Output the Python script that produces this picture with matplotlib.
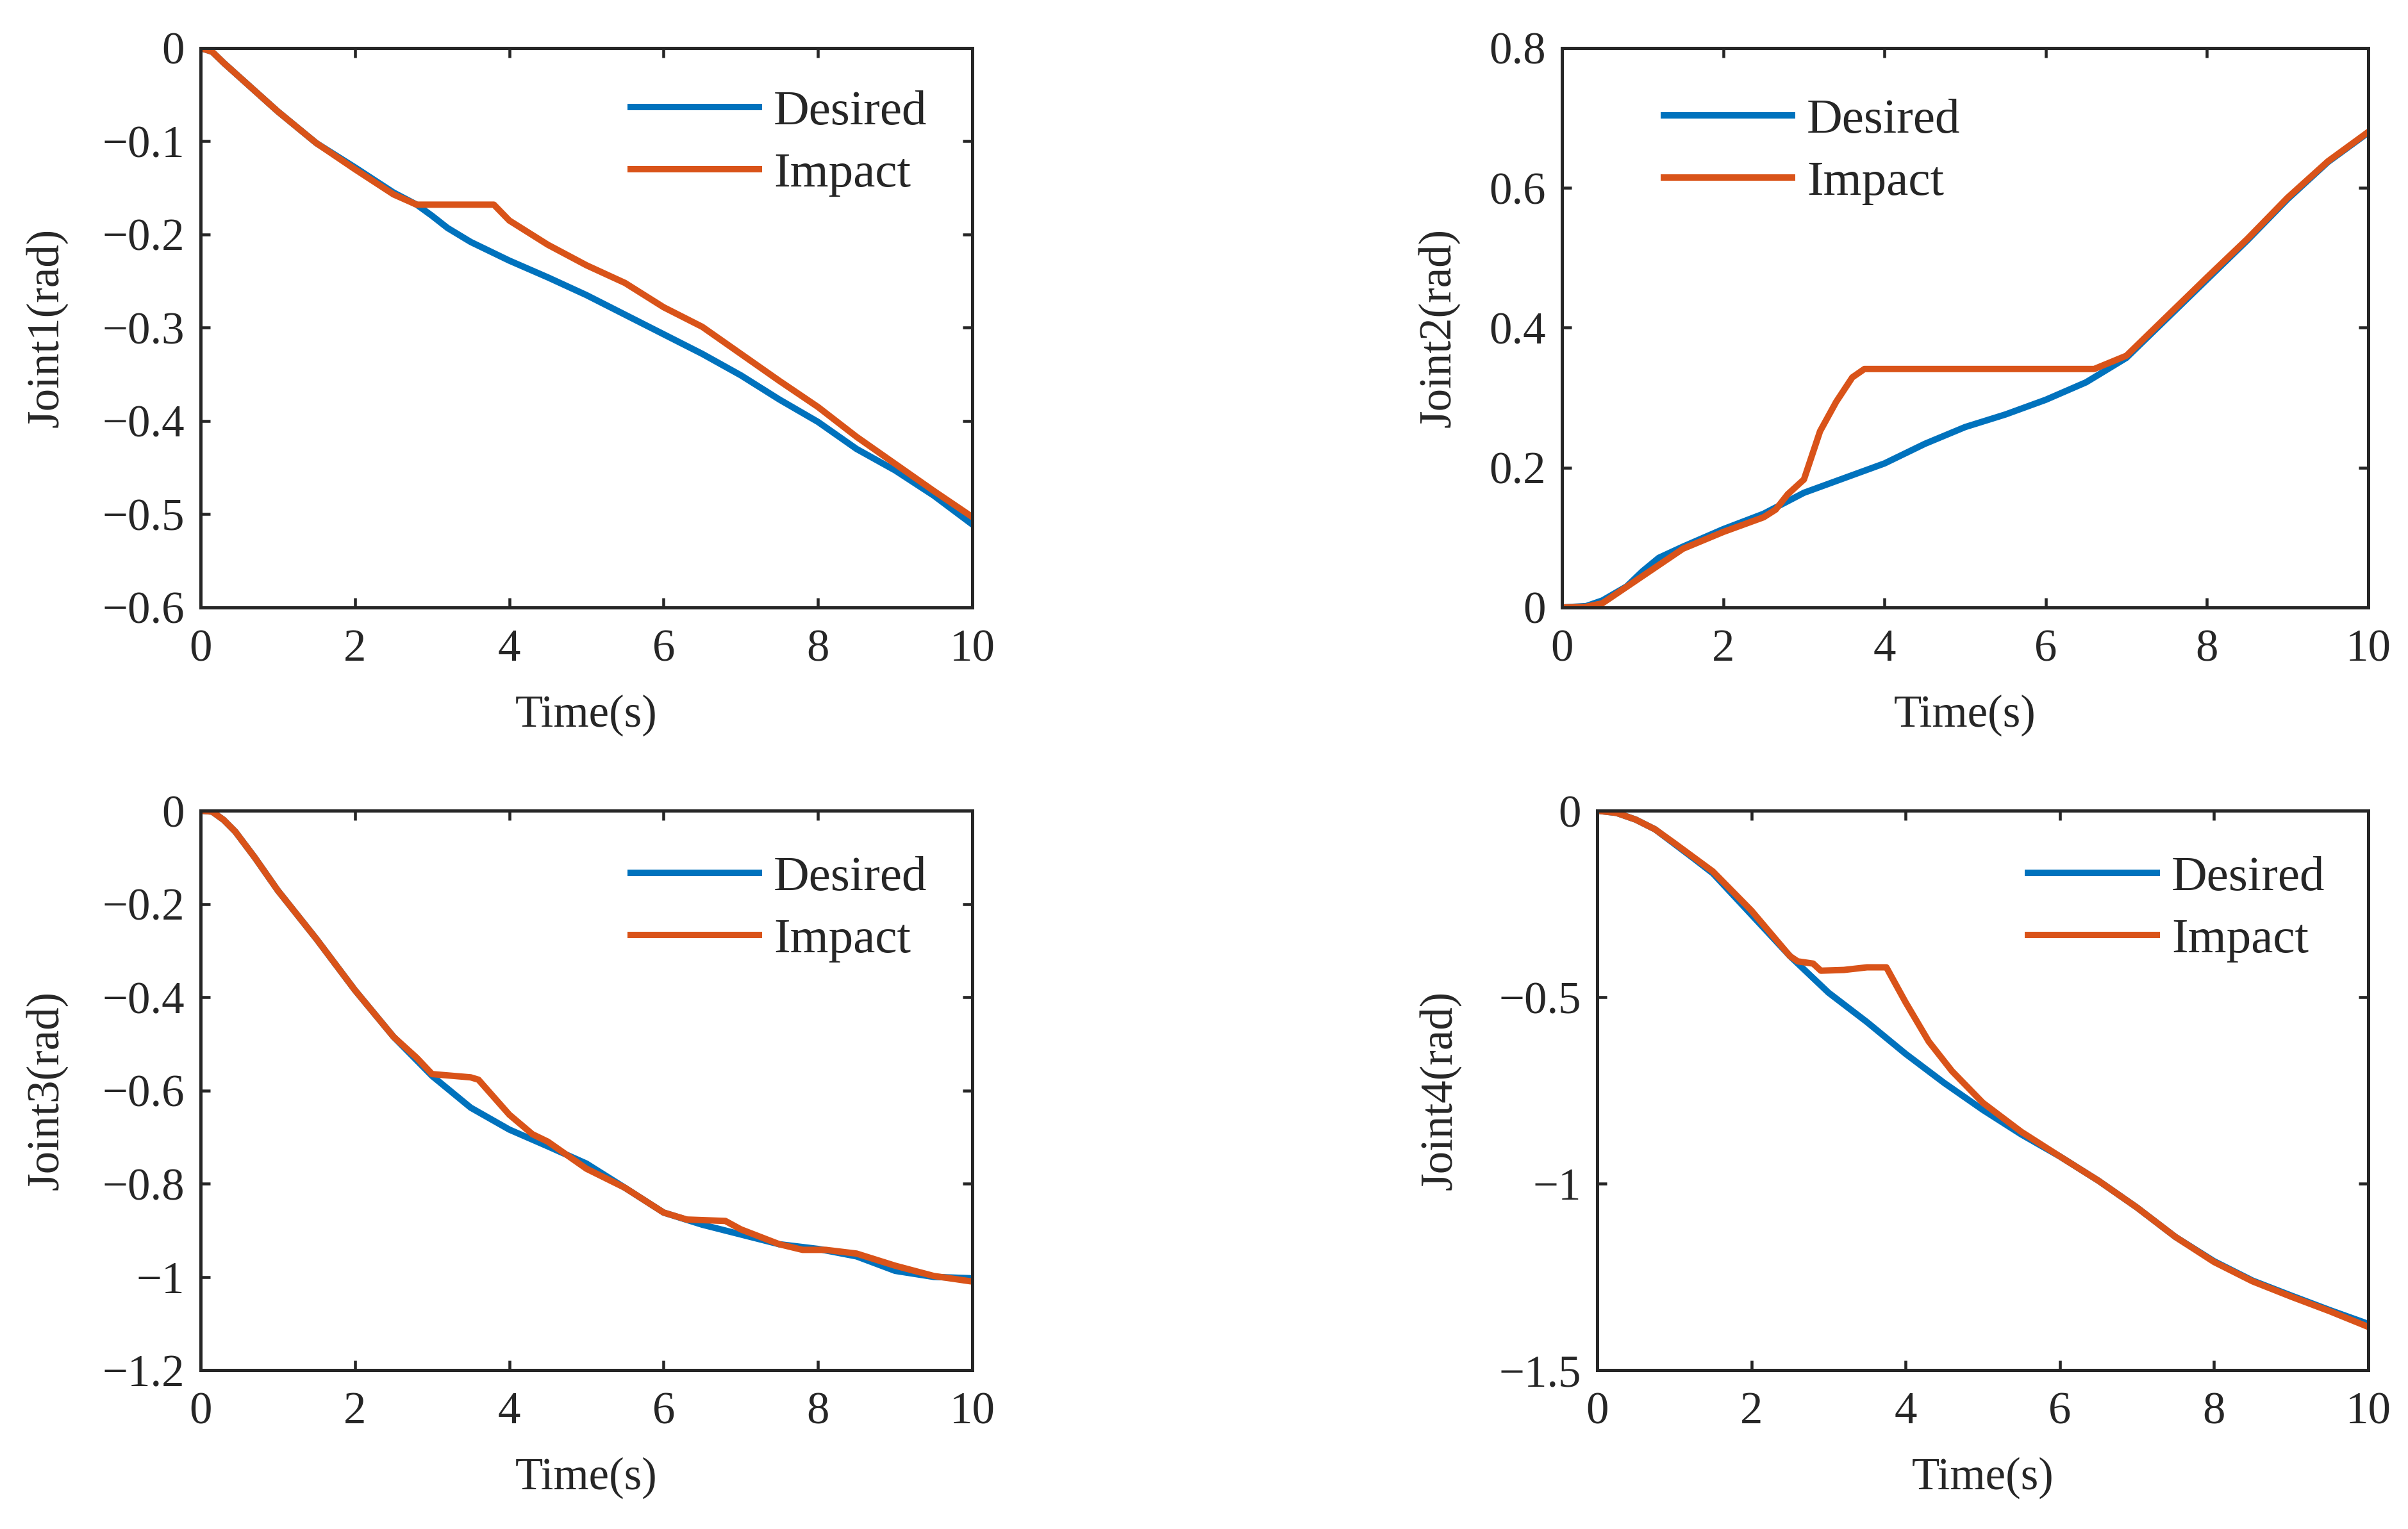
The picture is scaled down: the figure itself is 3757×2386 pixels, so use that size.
import numpy as np
import matplotlib
matplotlib.use("Agg")
import matplotlib.pyplot as plt
from matplotlib.ticker import FuncFormatter

plt.rcParams['font.family'] = ['Liberation Serif', 'DejaVu Serif']
plt.rcParams['axes.unicode_minus'] = True

# Joint 1
t1_des = [0, 0.15, 0.3, 1, 1.5, 2, 2.5, 2.8, 3, 3.2, 3.5, 4, 4.5, 5, 5.5, 6, 6.5, 7, 7.5, 8, 8.5, 9, 9.5, 10]
j1_des = [0, -0.004, -0.016, -0.068, -0.102, -0.128, -0.155, -0.168, -0.18, -0.193, -0.208, -0.228,
          -0.246, -0.265, -0.286, -0.307, -0.328, -0.351, -0.377, -0.401, -0.43, -0.453, -0.48, -0.511]
t1_imp = [0, 0.15, 0.3, 1, 1.5, 2, 2.5, 2.8, 3.8, 4, 4.5, 5, 5.5, 6, 6.5, 7, 7.5, 8, 8.5, 9, 9.5, 10]
j1_imp = [0, -0.004, -0.016, -0.068, -0.102, -0.13, -0.157, -0.168, -0.168, -0.185, -0.211, -0.233,
          -0.252, -0.278, -0.299, -0.328, -0.357, -0.385, -0.417, -0.446, -0.475, -0.503]

# Joint 2
t2_des = [0, 0.3, 0.5, 0.8, 1, 1.2, 1.5, 2, 2.5, 3, 3.5, 4, 4.5, 5, 5.5, 6, 6.5, 7, 7.5, 8, 8.5, 9, 9.5, 10]
j2_des = [0, 0.002, 0.01, 0.03, 0.052, 0.071, 0.087, 0.112, 0.134, 0.164, 0.185, 0.206, 0.234,
          0.258, 0.276, 0.297, 0.322, 0.357, 0.413, 0.469, 0.525, 0.584, 0.637, 0.679]
t2_imp = [0, 0.3, 0.5, 1, 1.5, 2, 2.5, 2.65, 2.8, 3.0, 3.2, 3.4, 3.6, 3.75, 6.6, 7, 7.5, 8, 8.5, 9, 9.5, 10]
j2_imp = [0, 0.001, 0.006, 0.045, 0.084, 0.108, 0.129, 0.14, 0.162, 0.183, 0.252, 0.294, 0.329,
          0.341, 0.341, 0.36, 0.416, 0.472, 0.527, 0.586, 0.638, 0.68]

# Joint 3
t3_des = [0, 0.15, 0.3, 0.45, 0.7, 1, 1.5, 2, 2.5, 3, 3.5, 4, 4.5, 5, 5.5, 6, 6.5, 7, 7.5, 8, 8.5, 9, 9.5, 10]
j3_des = [0, -0.002, -0.02, -0.045, -0.1, -0.171, -0.275, -0.385, -0.485, -0.569, -0.637, -0.684,
          -0.72, -0.757, -0.809, -0.862, -0.888, -0.909, -0.93, -0.94, -0.956, -0.987, -1.0, -1.003]
t3_imp = [0, 0.15, 0.3, 0.45, 0.7, 1, 1.5, 2, 2.5, 2.8, 3, 3.5, 3.6, 4, 4.3, 4.5, 5, 5.5, 6, 6.3, 6.8,
          7, 7.5, 7.8, 8.1, 8.5, 9, 9.5, 10]
j3_imp = [0, -0.002, -0.02, -0.045, -0.1, -0.171, -0.275, -0.385, -0.485, -0.53, -0.565, -0.572,
          -0.577, -0.652, -0.694, -0.71, -0.768, -0.809, -0.862, -0.877, -0.88, -0.898, -0.93,
          -0.942, -0.942, -0.95, -0.976, -0.998, -1.01]

# Joint 4
t4_des = [0, 0.25, 0.5, 0.75, 1, 1.25, 1.5, 2, 2.5, 3, 3.5, 4, 4.5, 5, 5.5, 6, 6.5, 7, 7.5, 8, 8.5, 9, 9.5, 10]
j4_des = [0, -0.006, -0.024, -0.05, -0.089, -0.128, -0.168, -0.279, -0.39, -0.488, -0.567, -0.652,
          -0.73, -0.802, -0.868, -0.927, -0.992, -1.064, -1.143, -1.208, -1.26, -1.3, -1.339, -1.376]
t4_imp = [0, 0.25, 0.5, 0.75, 1, 1.25, 1.5, 2, 2.5, 2.6, 2.8, 2.9, 3.2, 3.5, 3.75, 4, 4.3, 4.6, 5,
          5.5, 6, 6.5, 7, 7.5, 8, 8.5, 9, 9.5, 10]
j4_imp = [0, -0.006, -0.024, -0.05, -0.087, -0.125, -0.163, -0.268, -0.39, -0.404, -0.41, -0.429,
          -0.427, -0.42, -0.42, -0.514, -0.619, -0.698, -0.783, -0.861, -0.927, -0.992, -1.064,
          -1.143, -1.21, -1.262, -1.303, -1.342, -1.384]

ylabels = ['Joint1(rad)', 'Joint2(rad)', 'Joint3(rad)', 'Joint4(rad)']
yticks = [[-0.6, -0.5, -0.4, -0.3, -0.2, -0.1, 0],
          [0, 0.2, 0.4, 0.6, 0.8],
          [-1.2, -1.0, -0.8, -0.6, -0.4, -0.2, 0],
          [-1.5, -1.0, -0.5, 0]]
xticks = [0, 2, 4, 6, 8, 10]

blue = '#0072BD'
orange = '#D95319'
dark = '#262626'

fig = plt.figure(figsize=(3757 / 300, 2386 / 300), dpi=300)
positions = [[0.0833, 0.6027, 0.3205, 0.3659],
             [0.6487, 0.6027, 0.3348, 0.3659],
             [0.0833, 0.1039, 0.3205, 0.3659],
             [0.6633, 0.1039, 0.3202, 0.3659]]
legend_anchor = [(0.557, 0.925), (0.126, 0.91), (0.557, 0.92), (0.559, 0.92)]
ylabel_x = [-0.172, -0.127, -0.172, -0.177]

data = [(t1_des, j1_des, t1_imp, j1_imp),
        (t2_des, j2_des, t2_imp, j2_imp),
        (t3_des, j3_des, t3_imp, j3_imp),
        (t4_des, j4_des, t4_imp, j4_imp)]

fmt = FuncFormatter(lambda v, p: ('%g' % round(v, 3)).replace('-', '\u2212'))

for i in range(4):
    ax = fig.add_axes(positions[i])
    td, yd, ti, yi = data[i]
    ax.plot(td, yd, color=blue, lw=2.4, label='Desired')
    ax.plot(ti, yi, color=orange, lw=2.4, label='Impact')
    ax.set_xlim(0, 10)
    ax.set_ylim(yticks[i][0], yticks[i][-1])
    ax.set_xticks(xticks)
    ax.set_yticks(yticks[i])
    ax.yaxis.set_major_formatter(fmt)
    ax.tick_params(direction='in', top=True, right=True, length=3.5, width=1.1,
                   colors=dark, labelsize=17, labelcolor=dark)
    ax.tick_params(axis='x', pad=8)
    ax.tick_params(axis='y', pad=6)
    for s in ax.spines.values():
        s.set_linewidth(1.2)
        s.set_color(dark)
    ax.set_xlabel('Time(s)', fontsize=17, color=dark)
    ax.set_ylabel(ylabels[i], fontsize=17, color=dark)
    ax.xaxis.set_label_coords(0.5, -0.155)
    ax.yaxis.set_label_coords(ylabel_x[i], 0.5)
    leg = ax.legend(loc='upper left', bbox_to_anchor=legend_anchor[i], frameon=False,
                    fontsize=18.5, handlelength=2.6, handletextpad=0.3, borderpad=0,
                    borderaxespad=0, labelspacing=0.35)
    for txt in leg.get_texts():
        txt.set_color(dark)

fig.savefig('out.png', dpi=300)
